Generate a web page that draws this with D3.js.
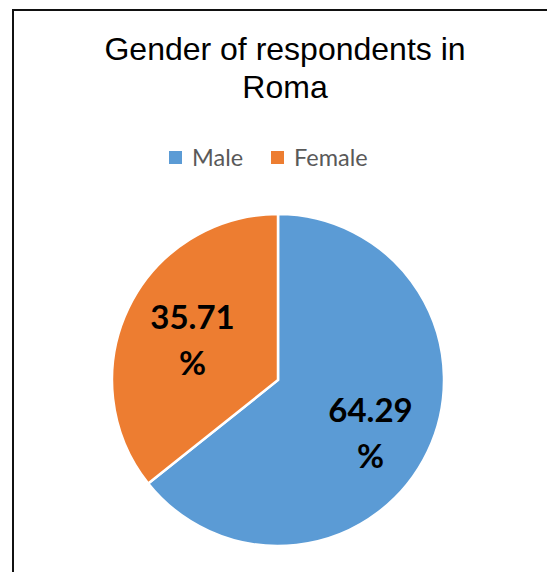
<!DOCTYPE html>
<html>
<head>
<meta charset="utf-8">
<script src="https://cdn.jsdelivr.net/npm/d3@7"></script>
<style>
  html, body { margin: 0; padding: 0; background: #fff; }
  svg { display: block; }
</style>
</head>
<body>
<svg id="chart" width="547" height="572"></svg>
<script>
// Gender split of respondents in Roma (percent)
const categories = ["Male", "Female"];
const values = [64.29, 35.71];
const colors = ["#5B9BD5", "#ED7D31"];
const titleLines = ["Gender of respondents in", "Roma"];

const svg = d3.select("#chart");
const W = 547, H = 572;

// chart frame (runs past the right and bottom edges)
svg.append("rect")
  .attr("x", 13).attr("y", 10)
  .attr("width", W).attr("height", H)
  .attr("fill", "#fff")
  .attr("stroke", "#111").attr("stroke-width", 2);

// title
const title = svg.append("text")
  .attr("text-anchor", "middle")
  .attr("font-family", "'Liberation Sans', Arial, sans-serif")
  .attr("font-size", 32)
  .attr("fill", "#000");
titleLines.forEach((t, i) => {
  title.append("tspan").attr("x", 285).attr("y", 60 + i * 38).text(t);
});

// legend
const legend = svg.append("g").attr("font-family", "Lato, 'Open Sans', sans-serif");
const legendX = [169, 271];
categories.forEach((c, i) => {
  const g = legend.append("g").attr("transform", `translate(${legendX[i]},151)`);
  g.append("rect").attr("width", 13).attr("height", 13).attr("fill", colors[i]);
  g.append("text").attr("x", 23).attr("y", 14.5)
    .attr("font-size", 23.5).attr("fill", "#595959").text(c);
});

// pie
const cx = 278, cy = 380, R = 166;
const data = categories.map((c, i) => ({ name: c, value: values[i], color: colors[i] }));
const pie = d3.pie().sort(null).value(d => d.value);
const arcs = pie(data);
const arc = d3.arc().innerRadius(0).outerRadius(R);

const g = svg.append("g").attr("transform", `translate(${cx},${cy})`);
g.selectAll("path").data(arcs).join("path")
  .attr("d", arc)
  .attr("fill", d => d.data.color)
  .attr("stroke", "#fff")
  .attr("stroke-width", 2.5)
  .attr("stroke-linejoin", "miter");

// data labels, value on one line and % sign on the next
const labelR = [106, 96];
const labelDx = [-3, 1];
const labelDy = [8, 3];
const fmt = d3.format(".2f");
arcs.forEach((a, i) => {
  const la = d3.arc().innerRadius(labelR[i]).outerRadius(labelR[i]);
  const [lx0, ly0] = la.centroid(a);
  const lx = lx0 + labelDx[i];
  const ly = ly0 + labelDy[i];
  const t = g.append("text")
    .attr("text-anchor", "middle")
    .attr("font-family", "Lato, 'Open Sans', sans-serif")
    .attr("font-weight", "bold")
    .attr("font-size", 33)
    .attr("fill", "#000");
  t.append("tspan").attr("x", lx).attr("y", ly - 12).text(fmt(a.data.value));
  t.append("tspan").attr("x", lx).attr("y", ly + 34).text("%");
});
</script>
</body>
</html>
